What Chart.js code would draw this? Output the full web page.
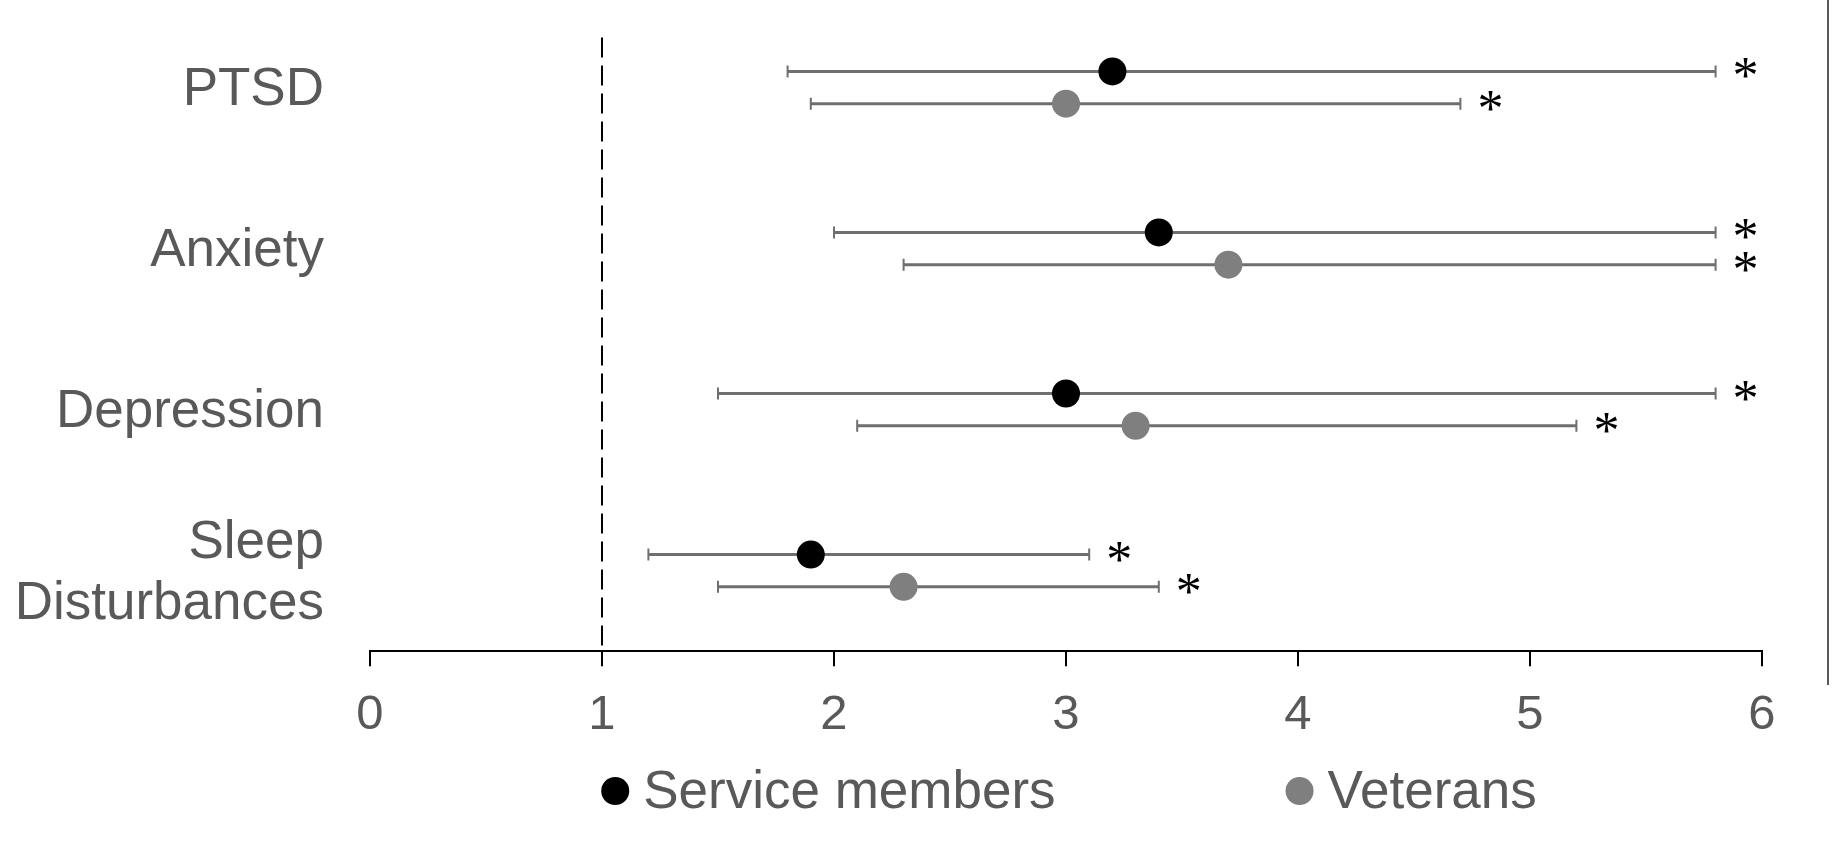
<!DOCTYPE html>
<html>
<head>
<meta charset="utf-8">
<script src="https://cdn.jsdelivr.net/npm/chart.js@4.4.1/dist/chart.umd.min.js"></script>
<style>
  html, body { margin: 0; padding: 0; background: #fff; }
  #wrap { width: 1833px; height: 846px; }
</style>
</head>
<body>
<div id="wrap"><canvas id="chart" width="1833" height="846"></canvas></div>
<script>
  // ---- data (odds ratios + 95% CI) ----
  const categories  = ['PTSD', 'Anxiety', 'Depression', ['Sleep', 'Disturbances']];
  const seriesNames = ['Service members', 'Veterans'];

  const serviceOR   = [3.2, 3.4, 3.0, 1.9];
  const serviceLow  = [1.8, 2.0, 1.5, 1.2];
  const serviceHigh = [5.8, 5.8, 5.8, 3.1];
  const serviceSig  = [true, true, true, true];

  const veteranOR   = [3.0, 3.7, 3.3, 2.3];
  const veteranLow  = [1.9, 2.3, 2.1, 1.5];
  const veteranHigh = [4.7, 5.8, 5.2, 3.4];
  const veteranSig  = [true, true, true, true];

  const xTicks   = [0, 1, 2, 3, 4, 5, 6];
  const refValue = 1;

  const FONT = '"Liberation Sans", Arial, sans-serif';
  const TEXT = '#595959';

  // rows: service slightly above the category centre, veterans slightly below
  function rows(values, offset) {
    return values.map((v, i) => ({ x: v, y: i + offset }));
  }

  const datasets = [
    {
      label: seriesNames[0],
      data: rows(serviceOR, 0.4),
      errLow: serviceLow, errHigh: serviceHigh, sig: serviceSig,
      backgroundColor: '#000000',
      borderWidth: 0,
      pointRadius: 14,
      pointHoverRadius: 14
    },
    {
      label: seriesNames[1],
      data: rows(veteranOR, 0.6),
      errLow: veteranLow, errHigh: veteranHigh, sig: veteranSig,
      backgroundColor: '#7f7f7f',
      borderWidth: 0,
      pointRadius: 14,
      pointHoverRadius: 14
    },
    {
      // reference line at OR = 1
      label: 'ref',
      data: [{ x: refValue, y: 0.19 }, { x: refValue, y: categories.length }],
      showLine: true,
      borderColor: '#000000',
      borderWidth: 2,
      borderDash: [20, 8],
      pointRadius: 0,
      pointHoverRadius: 0
    }
  ];

  // error bars + significance stars, drawn under the points
  const errorBars = {
    id: 'errorBars',
    beforeDatasetsDraw(chart) {
      const { ctx, scales: { x, y } } = chart;
      ctx.save();
      chart.data.datasets.forEach(ds => {
        if (!ds.errLow) return;
        ds.data.forEach((p, i) => {
          const py = y.getPixelForValue(p.y);
          const x0 = x.getPixelForValue(ds.errLow[i]);
          const x1 = x.getPixelForValue(ds.errHigh[i]);
          ctx.strokeStyle = '#6f6f6f';
          ctx.lineWidth = 3;
          ctx.beginPath();
          ctx.moveTo(x0, py); ctx.lineTo(x1, py);
          ctx.stroke();
          ctx.lineWidth = 2;
          ctx.beginPath();
          ctx.moveTo(x0, py - 6); ctx.lineTo(x0, py + 6);
          ctx.moveTo(x1, py - 6); ctx.lineTo(x1, py + 6);
          ctx.stroke();
          if (ds.sig[i]) {
            ctx.fillStyle = '#000000';
            ctx.font = '52px "Liberation Serif", "Times New Roman", serif';
            ctx.textAlign = 'center';
            ctx.textBaseline = 'alphabetic';
            ctx.fillText('*', x1 + 30, py + 22);
          }
        });
      });
      ctx.restore();
    },
    afterDraw(chart) {
      const { ctx } = chart;
      ctx.save();
      // legend
      ctx.font = '53px ' + FONT;
      const items = chart.data.datasets.filter(d => d.errLow);
      const gap = 230;
      const widths = items.map(d => 28 + 14 + ctx.measureText(d.label).width);
      const total = widths.reduce((a, b) => a + b, 0) + gap * (items.length - 1);
      let lx = 1069 - total / 2;
      const ly = 791;
      items.forEach((d, i) => {
        ctx.fillStyle = d.backgroundColor;
        ctx.beginPath();
        ctx.arc(lx + 14, ly, 14, 0, Math.PI * 2);
        ctx.fill();
        ctx.fillStyle = TEXT;
        ctx.textAlign = 'left';
        ctx.textBaseline = 'middle';
        ctx.fillText(d.label, lx + 28 + 14, ly + 2);
        lx += widths[i] + gap;
      });
      // frame line on the right
      ctx.strokeStyle = '#595959';
      ctx.lineWidth = 2;
      ctx.beginPath();
      ctx.moveTo(1828, 0); ctx.lineTo(1828, 685);
      ctx.stroke();
      ctx.restore();
    }
  };

  new Chart(document.getElementById('chart').getContext('2d'), {
    type: 'scatter',
    data: { datasets },
    options: {
      responsive: false,
      animation: false,
      layout: { autoPadding: false, padding: { top: 7, right: 71, bottom: 81, left: 0 } },
      plugins: { legend: { display: false }, tooltip: { enabled: false } },
      scales: {
        x: {
          type: 'linear',
          min: xTicks[0],
          max: xTicks[xTicks.length - 1],
          afterBuildTicks: s => { s.ticks = xTicks.map(v => ({ value: v })); },
          grid: { drawOnChartArea: false, drawTicks: true, tickLength: 15, color: '#000000', lineWidth: 2 },
          border: { color: '#000000', width: 2 },
          ticks: { padding: 20, color: TEXT, font: { size: 49, family: FONT } }
        },
        y: {
          type: 'linear',
          min: 0,
          max: categories.length,
          reverse: true,
          afterBuildTicks: s => { s.ticks = categories.map((c, i) => ({ value: i + 0.5 })); },
          afterFit: s => { s.width = 370; s.paddingTop = 0; s.paddingBottom = 0; },
          grid: { display: false, drawTicks: false },
          border: { display: false },
          ticks: {
            padding: 46,
            labelOffset: 3,
            color: TEXT,
            autoSkip: false,
            font: { size: 53, family: FONT, lineHeight: 1.15 },
            callback: (v, i) => categories[i]
          }
        }
      }
    },
    plugins: [errorBars]
  });
</script>
</body>
</html>
